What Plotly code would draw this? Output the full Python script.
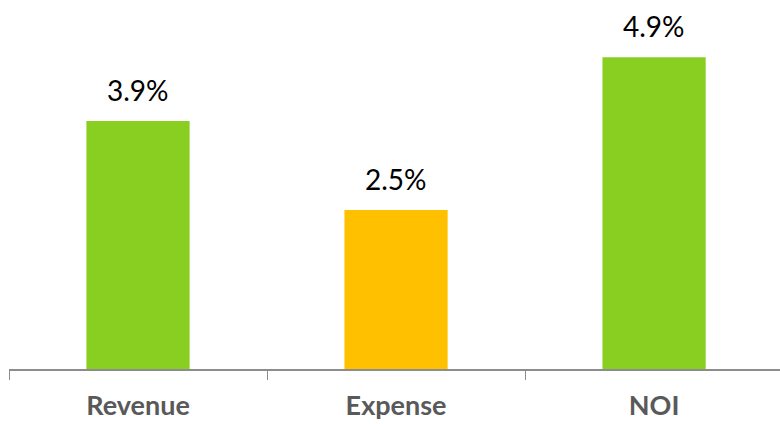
import plotly.graph_objects as go

# Year-over-year growth by line item
categories = ["Revenue", "Expense", "NOI"]
growth_pct = [3.9, 2.5, 4.9]
bar_colors = ["#88CF21", "#FFC000", "#88CF21"]
value_labels = [f"{v:.1f}%" for v in growth_pct]

fig = go.Figure()
fig.add_trace(go.Bar(
    x=categories,
    y=growth_pct,
    marker=dict(color=bar_colors, line=dict(width=0)),
    width=0.4,
    hoverinfo="skip",
))

for cat, val, lab in zip(categories, growth_pct, value_labels):
    fig.add_annotation(
        x=cat, y=val, text=lab, showarrow=False,
        yanchor="bottom", yshift=12,
        font=dict(family="Lato, 'Open Sans', sans-serif", size=28, color="#000000"),
    )

fig.update_layout(
    width=780, height=424,
    margin=dict(l=9, r=0, t=0, b=55),
    paper_bgcolor="white", plot_bgcolor="white",
    showlegend=False,
    bargap=0.6,
    xaxis=dict(
        type="category",
        range=[-0.5, 2.488],
        showline=True, linecolor="#8C8C8C", linewidth=2,
        ticks="outside", tickson="boundaries", ticklen=9,
        tickcolor="#8C8C8C", tickwidth=1,
        ticklabelstandoff=12,
        tickfont=dict(family="Lato, 'Open Sans', sans-serif", size=27, color="#595959",
                      weight="bold"),
        showgrid=False, zeroline=False,
    ),
    yaxis=dict(
        range=[0, 5.80],
        visible=False, showgrid=False, zeroline=False,
    ),
)

fig.write_html("out.html")
